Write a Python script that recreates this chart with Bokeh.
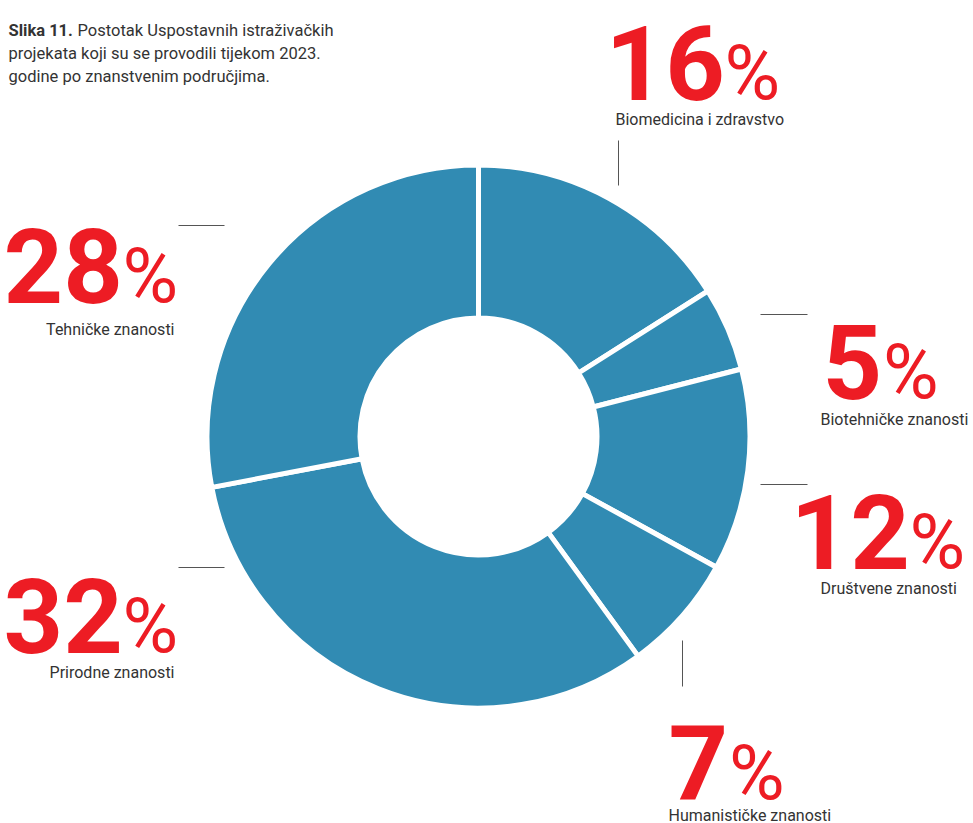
import math
from bokeh.plotting import figure
from bokeh.models import Range1d, ColumnDataSource
from bokeh.core.properties import value
from bokeh.embed import file_html
from bokeh.resources import INLINE

# ---- data ----
categories = ["Biomedicina i zdravstvo", "Biotehničke znanosti", "Društvene znanosti",
              "Humanističke znanosti", "Prirodne znanosti", "Tehničke znanosti"]
shares = [16, 5, 12, 7, 32, 28]
title_bold = "Slika 11."
title_lines = ["Postotak Uspostavnih istraživačkih",
               "projekata koji su se provodili tijekom 2023.",
               "godine po znanstvenim područjima."]

# ---- layout (page px, origin top-left) ----
W, H = 973, 823
FONT = "Roboto"
BLUE = "#318bb3"
RED = "#ed1c24"
DARK = "#333333"
NUM_FS, PCT_FS, LAB_FS, TIT_FS = 104, 76, 16, 16.5
BL = 0.36  # correction from wanted baseline to bokeh's anchor (in em)

def sy(y, fs):
    return H - (y + 3 - BL * fs)

cx, cy = 478, 436
r_out, r_in = 269, 121
gap = 5

num_left = [605, 822, 790, 668, 3, 3]
num_base = [97, 396, 566, 797, 650, 300]
lab_x = [615, 820, 820, 668, 174, 174]
lab_base = [122, 422, 591, 818, 675, 332]
lab_right = [False, False, False, False, True, True]
lead = [(618, 140, 618, 185), (760, 314, 807, 314), (760, 484, 807, 484),
        (682, 640, 682, 686), (178, 567, 224, 567), (178, 225, 224, 225)]

p = figure(width=W, height=H, x_range=Range1d(0, W), y_range=Range1d(0, H),
           output_backend="svg", toolbar_location=None, min_border=0,
           outline_line_color=None)
p.axis.visible = False
p.grid.visible = False

# ---- donut ----
total = sum(shares)
starts, ends = [], []
acc = 0
for s in shares:
    a0 = math.pi / 2 - 2 * math.pi * acc / total
    acc += s
    a1 = math.pi / 2 - 2 * math.pi * acc / total
    starts.append(a1)
    ends.append(a0)
src = ColumnDataSource(dict(x=[cx] * len(shares), y=[H - cy] * len(shares),
                            start=starts, end=ends, cat=categories))
p.annular_wedge(x="x", y="y", inner_radius=r_in - gap / 2, outer_radius=r_out + gap / 2,
                start_angle="start", end_angle="end", source=src,
                fill_color=BLUE, line_color="white", line_width=gap)

# ---- leader lines ----
p.segment(x0=[l[0] for l in lead], y0=[H - l[1] for l in lead],
          x1=[l[2] for l in lead], y1=[H - l[3] for l in lead],
          line_color="#555555", line_width=1)

# ---- numbers ----
nums = [str(s) for s in shares]
pct_x = [num_left[i] + len(nums[i]) * 0.562 * NUM_FS + 2 for i in range(len(shares))]
nsrc = ColumnDataSource(dict(x=num_left, y=[sy(b, NUM_FS) for b in num_base], t=nums))
p.text(x="x", y="y", text="t", source=nsrc, text_font=value(FONT),
       text_font_size=value(f"{NUM_FS}px"), text_font_style="bold", text_color=RED,
       text_align="left", text_baseline="alphabetic")
psrc = ColumnDataSource(dict(x=pct_x, y=[sy(b, PCT_FS) for b in num_base], t=["%"] * len(shares)))
p.text(x="x", y="y", text="t", source=psrc, text_font=value(FONT),
       text_font_size=value(f"{PCT_FS}px"), text_color=RED,
       text_align="left", text_baseline="alphabetic")

# ---- category labels ----
for right in (False, True):
    idx = [i for i in range(len(categories)) if lab_right[i] == right]
    lsrc = ColumnDataSource(dict(x=[lab_x[i] for i in idx],
                                 y=[sy(lab_base[i], LAB_FS) for i in idx],
                                 t=[categories[i] for i in idx]))
    p.text(x="x", y="y", text="t", source=lsrc, text_font=value(FONT),
           text_font_size=value(f"{LAB_FS}px"), text_color=DARK,
           text_align="right" if right else "left", text_baseline="alphabetic")

# ---- title ----
tsrc = ColumnDataSource(dict(x=[8], y=[sy(33, TIT_FS)], t=[title_bold]))
p.text(x="x", y="y", text="t", source=tsrc, text_font=value(FONT),
       text_font_size=value(f"{TIT_FS}px"), text_font_style="bold", text_color=DARK,
       text_baseline="alphabetic")
t2src = ColumnDataSource(dict(x=[77, 8, 8], y=[sy(33, TIT_FS), sy(56, TIT_FS), sy(79, TIT_FS)],
                              t=title_lines))
p.text(x="x", y="y", text="t", source=t2src, text_font=value(FONT),
       text_font_size=value(f"{TIT_FS}px"), text_color=DARK, text_baseline="alphabetic")

open("out.html", "w").write(file_html(p, INLINE))
